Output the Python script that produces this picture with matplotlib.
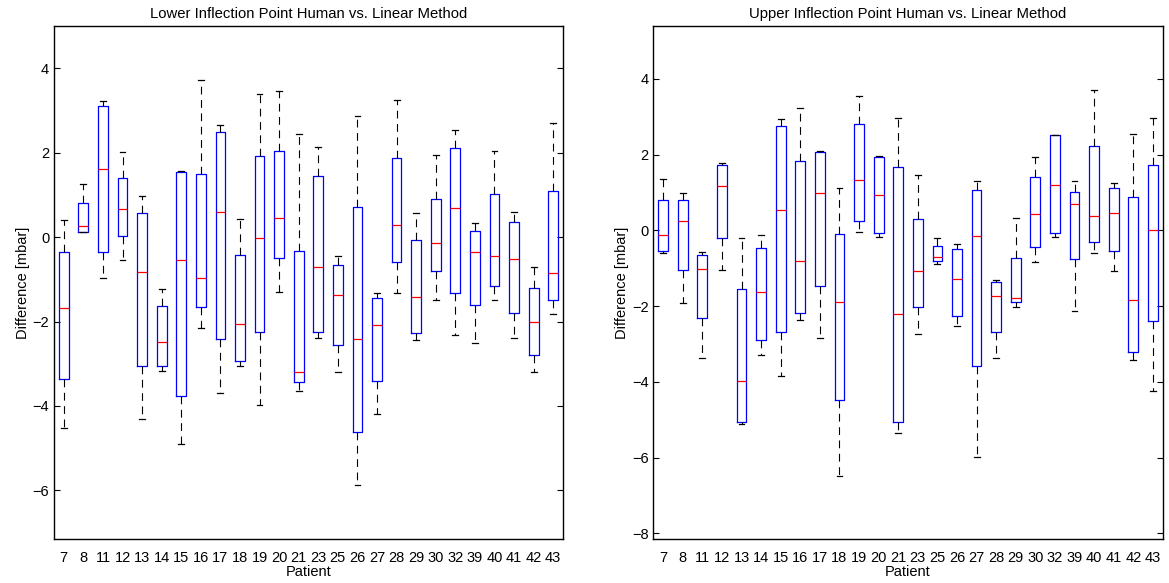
import numpy as np
import matplotlib
matplotlib.use('Agg')
from matplotlib import pyplot as plt

plt.rcParams['font.family'] = ['Liberation Sans', 'DejaVu Sans']

patients = ['7', '8', '11', '12', '13', '14', '15', '16', '17', '18', '19', '20', '21',
            '23', '25', '26', '27', '28', '29', '30', '32', '39', '40', '41', '42', '43']

# Lower inflection point: whisker high, Q3, median, Q1, whisker low
low_whishi = [0.41, 1.26, 3.23, 2.02, 0.98, -1.24, 1.57, 3.72, 2.66, 0.43, 3.39, 3.46, 2.45,
              2.14, -0.44, 2.87, -1.33, 3.25, 0.56, 1.94, 2.54, 0.33, 2.05, 0.59, -0.71, 2.69]
low_q3 = [-0.36, 0.80, 3.10, 1.39, 0.57, -1.64, 1.53, 1.50, 2.48, -0.42, 1.91, 2.05, -0.34,
          1.44, -0.65, 0.72, -1.45, 1.87, -0.06, 0.90, 2.12, 0.15, 1.01, 0.35, -1.20, 1.08]
low_med = [-1.68, 0.26, 1.61, 0.67, -0.83, -2.49, -0.54, -0.96, 0.59, -2.05, -0.02, 0.46, -3.19,
           -0.70, -1.38, -2.41, -2.09, 0.28, -1.43, -0.13, 0.70, -0.36, -0.44, -0.52, -2.02, -0.86]
low_q1 = [-3.37, 0.13, -0.36, 0.02, -3.06, -3.06, -3.76, -1.65, -2.41, -2.93, -2.25, -0.50, -3.44,
          -2.25, -2.56, -4.61, -3.42, -0.59, -2.28, -0.80, -1.32, -1.61, -1.17, -1.79, -2.80, -1.50]
low_whislo = [-4.51, 0.11, -0.96, -0.54, -4.31, -3.16, -4.91, -2.15, -3.70, -3.06, -3.98, -1.30, -3.65,
              -2.38, -3.20, -5.87, -4.20, -1.32, -2.43, -1.50, -2.33, -2.51, -1.48, -2.39, -3.20, -1.82]

# Upper inflection point
up_whishi = [1.35, 0.98, -0.57, 1.79, -0.20, -0.11, 2.95, 3.24, 2.11, 1.13, 3.55, 1.96, 2.98,
             1.47, -0.20, -0.37, 1.30, -1.30, 0.34, 1.93, 2.53, 1.30, 3.72, 1.24, 2.54, 2.97]
up_q3 = [0.81, 0.81, -0.64, 1.73, -1.56, -0.46, 2.75, 1.82, 2.07, -0.09, 2.82, 1.93, 1.68,
         0.29, -0.41, -0.48, 1.06, -1.36, -0.72, 1.41, 2.51, 1.01, 2.22, 1.12, 0.89, 1.73]
up_med = [-0.11, 0.24, -1.01, 1.18, -3.97, -1.64, 0.53, -0.80, 0.98, -1.90, 1.33, 0.93, -2.22,
          -1.06, -0.69, -1.29, -0.14, -1.73, -1.78, 0.44, 1.21, 0.69, 0.38, 0.46, -1.83, 0.00]
up_q1 = [-0.54, -1.04, -2.32, -0.19, -5.07, -2.90, -2.68, -2.18, -1.46, -4.49, 0.26, -0.08, -5.07,
         -2.01, -0.80, -2.26, -3.57, -2.68, -1.89, -0.43, -0.08, -0.75, -0.31, -0.54, -3.20, -2.39]
up_whislo = [-0.60, -1.93, -3.38, -1.04, -5.12, -3.29, -3.84, -2.37, -2.85, -6.48, -0.04, -0.17, -5.36,
             -2.74, -0.89, -2.53, -5.99, -3.37, -2.01, -0.83, -0.17, -2.14, -0.60, -1.06, -3.43, -4.25]


def make_stats(whishi, q3, med, q1, whislo):
    return [dict(whishi=a, q3=b, med=c, q1=d, whislo=e)
            for a, b, c, d, e in zip(whishi, q3, med, q1, whislo)]


def draw(ax, stats, title, ylim, yticks):
    n = len(stats)
    ax.bxp(stats, positions=np.arange(1, n + 1), widths=0.5, capwidths=0.3,
           showfliers=False, manage_ticks=False,
           boxprops=dict(color='blue', linewidth=0.9),
           medianprops=dict(color='red', linewidth=0.9),
           whiskerprops=dict(color='black', linewidth=0.8, linestyle=(0, (7, 5))),
           capprops=dict(color='black', linewidth=0.9))
    ax.set_xlim(0.5, n + 0.5)
    ax.set_ylim(*ylim)
    ax.set_yticks(yticks)
    ax.set_xticks(np.arange(1, n + 1))
    ax.set_xticklabels(patients)
    ax.tick_params(axis='y', direction='in', right=True, length=4, labelsize=10.5, width=0.8)
    ax.tick_params(axis='x', length=0, labelsize=10.5, pad=9)
    for s in ax.spines.values():
        s.set_linewidth(1.0)
    ax.set_title(title, fontsize=10.7, pad=6)
    ax.set_xlabel('Patient', fontsize=10.5, labelpad=0)
    ax.set_ylabel('Difference [mbar]', fontsize=10.5, labelpad=2)


fig = plt.figure(figsize=(11.69, 5.83), dpi=100)
ax1 = fig.add_axes([0.0462, 0.0755, 0.4354, 0.880])
ax2 = fig.add_axes([0.5589, 0.0755, 0.4357, 0.880])

draw(ax1, make_stats(low_whishi, low_q3, low_med, low_q1, low_whislo),
     'Lower Inflection Point Human vs. Linear Method', (-7.15, 5.0), [-6, -4, -2, 0, 2, 4])
draw(ax2, make_stats(up_whishi, up_q3, up_med, up_q1, up_whislo),
     'Upper Inflection Point Human vs. Linear Method', (-8.15, 5.4), [-8, -6, -4, -2, 0, 2, 4])

fig.savefig('out.png', dpi=100)
